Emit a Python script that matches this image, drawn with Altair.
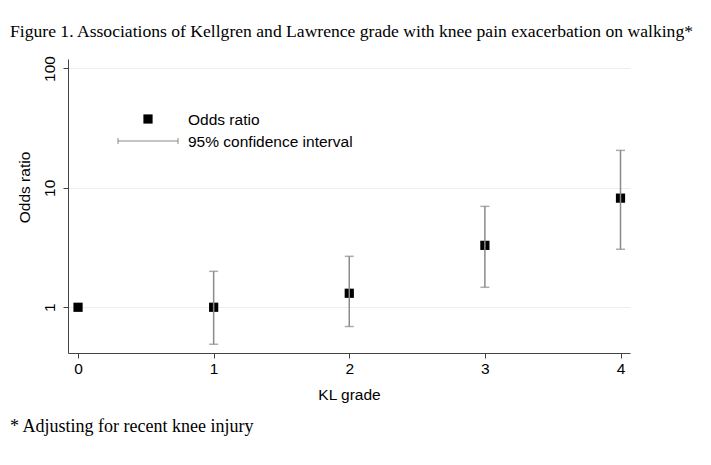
import altair as alt
import pandas as pd

grades = [0, 1, 2, 3, 4]
odds = [1.0, 1.0, 1.31, 3.3, 8.2]
ci_low = [None, 0.49, 0.69, 1.47, 3.06]
ci_high = [None, 2.0, 2.67, 7.0, 20.6]

title_text = "Figure 1. Associations of Kellgren and Lawrence grade with knee pain exacerbation on walking*"
footnote_text = "* Adjusting for recent knee injury"
legend_labels = ["Odds ratio", "95% confidence interval"]

df = pd.DataFrame({"grade": grades, "or": odds, "lo": ci_low, "hi": ci_high})

W, H = 562, 294
SANS = "Liberation Sans"
SERIF = "Liberation Serif"
BAR_COLOR = "#8a8a8a"
FS = 15.5

x = alt.X("grade:Q", title="KL grade",
          scale=alt.Scale(domain=[-0.074, 4.07], nice=False, zero=False),
          axis=alt.Axis(values=grades, format="d", grid=False, tickSize=5,
                        labelFontSize=FS, titleFontSize=FS, labelPadding=3,
                        titlePadding=11, labelFont=SANS, titleFont=SANS,
                        titleFontWeight="normal", domainColor="#444", tickColor="#444",
                        labelColor="#000", titleColor="#000"))
yscale = alt.Scale(type="log", domain=[0.414, 120], nice=False)
yaxis = alt.Axis(values=[1, 10, 100], format="~g", grid=True, gridColor="#e6f0f1",
                 tickSize=5, labelAngle=270, labelAlign="center", labelBaseline="bottom",
                 labelPadding=6, labelFontSize=FS, titleFontSize=FS,
                 titleX=-44, titleY=128, titleAngle=270, titleAlign="center",
                 titleBaseline="middle",
                 labelFont=SANS, titleFont=SANS, titleFontWeight="normal",
                 domainColor="#444", tickColor="#444", labelColor="#000", titleColor="#000")

base = alt.Chart(df)

points = base.mark_point(shape="square", filled=True, color="black", size=85, opacity=1).encode(
    x=x, y=alt.Y("or:Q", title="Odds ratio", scale=yscale, axis=yaxis))

ci = base.transform_filter("datum.lo != null")
stems = ci.mark_rule(color=BAR_COLOR, strokeWidth=1.5).encode(
    x="grade:Q", y="lo:Q", y2="hi:Q")
caps_lo = ci.mark_tick(orient="horizontal", color=BAR_COLOR, size=9, thickness=1.5).encode(
    x="grade:Q", y="lo:Q")
caps_hi = ci.mark_tick(orient="horizontal", color=BAR_COLOR, size=9, thickness=1.5).encode(
    x="grade:Q", y="hi:Q")

one = alt.Chart(df).transform_filter("datum.grade == 0")

# legend
leg_sq = one.mark_point(shape="square", filled=True, color="black", size=85, opacity=1).encode(
    x=alt.value(80), y=alt.value(60))
leg_line = one.mark_rule(color=BAR_COLOR, strokeWidth=1).encode(
    x=alt.value(50), x2=alt.value(110), y=alt.value(82))
leg_cap1 = one.mark_rule(color=BAR_COLOR, strokeWidth=1).encode(
    x=alt.value(50), y=alt.value(79), y2=alt.value(85))
leg_cap2 = one.mark_rule(color=BAR_COLOR, strokeWidth=1).encode(
    x=alt.value(110), y=alt.value(79), y2=alt.value(85))
leg_t1 = one.mark_text(text=legend_labels[0], align="left", baseline="middle", font=SANS,
                       fontSize=FS, color="black").encode(x=alt.value(120), y=alt.value(61))
leg_t2 = one.mark_text(text=legend_labels[1], align="left", baseline="middle", font=SANS,
                       fontSize=FS, color="black").encode(x=alt.value(120), y=alt.value(83))

title = one.mark_text(text=title_text, align="left", baseline="alphabetic", font=SERIF,
                      fontSize=17.6, color="black").encode(x=alt.value(-58), y=alt.value(-22))
foot = one.mark_text(text=footnote_text, align="left", baseline="alphabetic", font=SERIF,
                     fontSize=18, color="black").encode(x=alt.value(-58), y=alt.value(373))

chart = alt.layer(points, stems, caps_lo, caps_hi, leg_sq, leg_line, leg_cap1, leg_cap2,
                  leg_t1, leg_t2, title, foot).properties(
    width=W, height=H,
    autosize=alt.AutoSizeParams(type="none"),
    padding={"left": 60, "top": 51, "right": 73, "bottom": 104},
    background="white",
).configure_view(stroke=None)

chart.save("out.html", embed_options={"renderer": "svg", "actions": False})
